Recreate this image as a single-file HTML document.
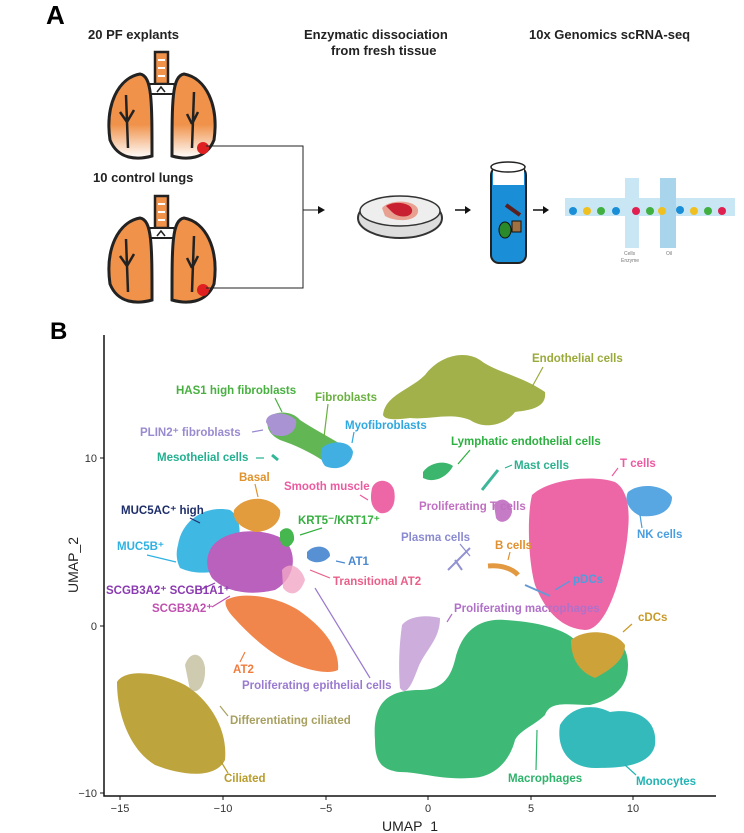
<!DOCTYPE html>
<html><head><meta charset="utf-8"><style>
body{margin:0;background:#fff;}
svg{display:block;font-family:"Liberation Sans",sans-serif;}
.t{font-weight:bold;font-size:13px;fill:#222}
.l{font-size:11.5px;font-weight:bold}
</style></head><body>
<svg width="744" height="833" viewBox="0 0 744 833">
<defs>
<linearGradient id="fade" x1="0" y1="0" x2="0" y2="1"><stop offset="0.6" stop-color="#f0924a"/><stop offset="1" stop-color="#fff"/></linearGradient>
</defs>
<text x="46" y="24" font-size="26" font-weight="bold">A</text>
<text class="t" x="88" y="39">20 PF explants</text>
<text class="t" x="304" y="39">Enzymatic dissociation</text>
<text class="t" x="331" y="55">from fresh tissue</text>
<text class="t" x="529" y="39">10x Genomics scRNA-seq</text>
<text class="t" x="93" y="182">10 control lungs</text>
<g>
<rect x="155" y="52" width="13" height="32" fill="#f0924a" stroke="#222" stroke-width="2.5"/>
<path d="M158 60h7M158 68h7M158 76h7" stroke="#fff" stroke-width="2"/>
<path d="M150 84 L174 84 L177 94 L147 94Z" fill="#fff" stroke="#222" stroke-width="2"/>
<path d="M157 92 L161 87 L165 92" fill="none" stroke="#222" stroke-width="1.5"/>
<path d="M110 140 C105 105,118 78,140 74 C152 76,152 100,152 156 C138 160,118 160,110 140Z" fill="url(#fade)" stroke="#222" stroke-width="3"/>
<path d="M214 140 C219 105,206 78,184 74 C172 76,172 100,172 156 C186 160,206 160,214 140Z" fill="url(#fade)" stroke="#222" stroke-width="3"/>
<path d="M126 95 L128 148 M120 112 L127 122 M134 110 L127 122 M194 92 L192 148 M187 114 L192 124 M198 112 L192 124" fill="none" stroke="#222" stroke-width="2.5"/>
</g>
<g transform="translate(0,144)">
<rect x="155" y="52" width="13" height="32" fill="#f0924a" stroke="#222" stroke-width="2.5"/>
<path d="M158 60h7M158 68h7M158 76h7" stroke="#fff" stroke-width="2"/>
<path d="M150 84 L174 84 L177 94 L147 94Z" fill="#fff" stroke="#222" stroke-width="2"/>
<path d="M157 92 L161 87 L165 92" fill="none" stroke="#222" stroke-width="1.5"/>
<path d="M110 140 C105 105,118 78,140 74 C152 76,152 100,152 156 C138 160,118 160,110 140Z" fill="#f0924a" stroke="#222" stroke-width="3"/>
<path d="M214 140 C219 105,206 78,184 74 C172 76,172 100,172 156 C186 160,206 160,214 140Z" fill="#f0924a" stroke="#222" stroke-width="3"/>
<path d="M126 95 L128 148 M120 112 L127 122 M134 110 L127 122 M194 92 L192 148 M187 114 L192 124 M198 112 L192 124" fill="none" stroke="#222" stroke-width="2.5"/>
</g>
<circle cx="203" cy="148" r="6" fill="#e02020"/>
<circle cx="203" cy="290" r="6" fill="#e02020"/>
<path d="M206 146 H303 V288 H206 M303 210 H318" fill="none" stroke="#222" stroke-width="1"/>
<path d="M318 206 L325 210 L318 214Z" fill="#111"/>
<ellipse cx="400" cy="218" rx="42" ry="20" fill="#ddd" stroke="#333" stroke-width="2"/>
<ellipse cx="400" cy="211" rx="40" ry="15" fill="#eee" stroke="#333" stroke-width="1.5"/>
<path d="M382 208 C390 198,420 200,418 212 C416 222,395 222,385 216Z" fill="#e8a090"/>
<path d="M386 206 C395 200,414 203,412 212 C410 218,398 218,392 212Z" fill="#c82030"/>
<path d="M455 210 H465 M533 210 H543" stroke="#111" stroke-width="1.5"/>
<path d="M465 206 L471 210 L465 214Z M543 206 L549 210 L543 214Z" fill="#111"/>
<rect x="491" y="167" width="35" height="96" rx="8" fill="#1a8fd8" stroke="#222" stroke-width="2"/>
<rect x="493" y="169" width="31" height="16" fill="#fff"/>
<ellipse cx="508" cy="167" rx="17" ry="5" fill="#fff" stroke="#222" stroke-width="1.5"/>
<ellipse cx="505" cy="230" rx="6" ry="8" fill="#2a8a2a" stroke="#111"/>
<rect x="512" y="221" width="9" height="11" fill="#a07040" stroke="#111"/>
<path d="M506 205 L520 215" stroke="#5a2020" stroke-width="4"/>
<rect x="565" y="198" width="170" height="18" fill="#c8e6f4"/>
<rect x="625" y="178" width="14" height="70" fill="#c8e6f4"/>
<rect x="660" y="178" width="16" height="70" fill="#a8d4ec"/>
<g>
<circle cx="573" cy="211" r="4" fill="#1a8fd8"/><circle cx="587" cy="211" r="4" fill="#f0c020"/><circle cx="601" cy="211" r="4" fill="#40b040"/><circle cx="616" cy="211" r="4" fill="#1a8fd8"/><circle cx="636" cy="211" r="4" fill="#e02050"/><circle cx="650" cy="211" r="4" fill="#40b040"/><circle cx="662" cy="211" r="4" fill="#f0c020"/><circle cx="680" cy="210" r="4" fill="#1a8fd8"/><circle cx="694" cy="211" r="4" fill="#f0c020"/><circle cx="708" cy="211" r="4" fill="#40b040"/><circle cx="722" cy="211" r="4" fill="#e02050"/>
</g>
<text x="624" y="255" font-size="5" fill="#777">Cells</text><text x="621" y="262" font-size="5" fill="#777">Enzyme</text><text x="666" y="255" font-size="5" fill="#777">Oil</text>

<text x="50" y="339" font-size="24" font-weight="bold">B</text>
<g opacity="0.92">
<path d="M383 415 C385 395,410 390,425 375 C440 355,465 350,480 360 C495 372,520 375,545 392 C547 408,530 410,515 412 C505 425,485 430,470 420 C450 412,430 420,410 418 C395 420,385 420,383 415Z" fill="#9aaa3a"/>
<path d="M268 420 C272 410,292 410,300 420 C315 430,335 440,350 450 C352 462,340 470,325 462 C310 452,295 445,280 440 C270 435,266 428,268 420Z" fill="#55b045"/>
<path d="M266 422 C266 412,285 410,296 420 C298 432,285 440,272 434Z" fill="#a28ad0"/>
<path d="M322 448 C330 440,350 440,353 452 C352 465,338 472,325 466 C320 460,320 453,322 448Z" fill="#30a8e0"/>
<path d="M272 455 L278 460" stroke="#22b090" stroke-width="3"/>
<path d="M372 488 C376 478,390 478,394 490 C397 505,390 515,380 513 C370 508,370 498,372 488Z" fill="#ec5aa0"/>
<path d="M423 472 C430 462,445 460,453 466 C448 476,435 484,423 478Z" fill="#2cb060"/>
<path d="M482 490 L498 470" stroke="#2cb090" stroke-width="3"/>
<path d="M532 495 C550 478,595 475,615 482 C628 490,630 510,628 530 C626 560,610 630,585 630 C560 628,545 610,535 585 C528 560,527 515,532 495Z" fill="#ec5aa0"/>
<path d="M628 492 C640 482,665 485,672 497 C672 510,660 518,640 516 C628 510,624 500,628 492Z" fill="#4a9ee0"/>
<path d="M494 505 C500 495,512 500,512 512 C510 522,500 525,496 518Z" fill="#c070c0"/>
<path d="M448 570 L470 548 M455 560 L462 570" stroke="#8a8ad0" stroke-width="2" fill="none"/>
<path d="M488 566 C500 565,512 568,518 575" stroke="#e09030" stroke-width="5" fill="none"/>
<path d="M525 585 L550 596" stroke="#5a90d0" stroke-width="2"/>
<path d="M375 740 C372 700,390 690,420 690 C440 690,450 680,455 660 C462 630,480 618,505 620 C540 622,565 630,575 640 C600 628,628 635,628 665 C628 690,610 700,590 705 C570 705,550 700,545 715 C535 725,520 730,515 740 C510 760,495 778,470 778 C440 780,420 772,400 772 C380 770,375 760,375 740Z" fill="#2db36a"/>
<path d="M571 640 C585 628,615 630,625 645 C625 660,610 670,595 678 C580 672,571 660,571 640Z" fill="#c99a28"/>
<path d="M560 725 C570 708,590 702,610 712 C635 708,658 718,655 745 C650 768,615 768,595 768 C570 768,556 750,560 725Z" fill="#22b4b4"/>
<path d="M402 625 C410 615,428 615,440 618 C440 640,425 650,418 668 C410 690,405 695,400 688 C398 660,400 640,402 625Z" fill="#b080c8" opacity="0.7"/>
<path d="M117 682 C125 668,160 672,185 685 C210 700,228 730,225 760 C215 780,180 775,155 765 C130 750,117 715,117 682Z" fill="#b89c2c"/>
<path d="M185 665 C190 650,203 652,205 668 C206 685,198 695,190 690Z" fill="#a8a070" opacity="0.6"/>
<path d="M226 600 C245 590,285 598,305 615 C325 630,340 650,338 670 C328 675,305 670,285 660 C265 650,245 630,236 620 C228 612,224 605,226 600Z" fill="#f07c3e"/>
<path d="M178 545 C182 520,205 505,230 510 C245 520,240 545,232 562 C220 575,195 575,180 568 C176 560,176 552,178 545Z" fill="#2fb2e2"/>
<path d="M210 550 C220 530,260 525,285 540 C298 555,295 578,275 590 C250 596,225 592,212 578 C206 568,206 558,210 550Z" fill="#b452b8"/>
<path d="M234 510 C245 495,270 495,280 510 C282 522,270 532,255 532 C240 528,232 520,234 510Z" fill="#e0922c"/>
<path d="M280 532 C285 525,295 528,294 540 C290 550,282 548,280 540Z" fill="#36b040"/>
<path d="M307 552 C315 543,330 546,330 556 C324 564,312 564,307 558Z" fill="#4a88d0"/>
<path d="M282 570 C290 560,302 568,305 580 C300 595,290 597,283 588Z" fill="#f0a0c0" opacity="0.8"/>
</g>
<path d="M104 335 V796 H716" fill="none" stroke="#111" stroke-width="1.5"/>
<g stroke="#111" stroke-width="1"><path d="M120 796v4M223 796v4M326 796v4M428 796v4M531 796v4M633 796v4M100 458h4M100 626h4M100 793h4"/></g>
<g font-size="11" fill="#333" text-anchor="middle"><text x="120" y="812">−15</text><text x="223" y="812">−10</text><text x="326" y="812">−5</text><text x="428" y="812">0</text><text x="531" y="812">5</text><text x="633" y="812">10</text></g>
<g font-size="11" fill="#333" text-anchor="end"><text x="97" y="462">10</text><text x="97" y="630">0</text><text x="97" y="797">−10</text></g>
<text x="410" y="831" font-size="14" fill="#222" text-anchor="middle">UMAP_1</text>
<text x="78" y="565" font-size="14" fill="#222" text-anchor="middle" transform="rotate(-90 78 565)">UMAP_2</text>
<g class="l">
<text x="532" y="362" fill="#9aaa3a">Endothelial cells</text>
<text x="176" y="394" fill="#48b040">HAS1 high fibroblasts</text>
<text x="315" y="401" fill="#6ab040">Fibroblasts</text>
<text x="140" y="436" fill="#9a8ad0">PLIN2⁺ fibroblasts</text>
<text x="345" y="429" fill="#30a8e0">Myofibroblasts</text>
<text x="451" y="445" fill="#2cb040">Lymphatic endothelial cells</text>
<text x="157" y="461" fill="#22b090">Mesothelial cells</text>
<text x="514" y="469" fill="#2cb090">Mast cells</text>
<text x="620" y="467" fill="#ec5aa0">T cells</text>
<text x="239" y="481" fill="#e0922c">Basal</text>
<text x="284" y="490" fill="#ec5aa0">Smooth muscle</text>
<text x="121" y="514" fill="#1e2e6a">MUC5AC⁺ high</text>
<text x="419" y="510" fill="#c070c0">Proliferating T cells</text>
<text x="298" y="524" fill="#36b040">KRT5⁻/KRT17⁺</text>
<text x="401" y="541" fill="#8a8ad0">Plasma cells</text>
<text x="637" y="538" fill="#4a9ee0">NK cells</text>
<text x="117" y="550" fill="#2fb2e2">MUC5B⁺</text>
<text x="495" y="549" fill="#e09030">B cells</text>
<text x="348" y="565" fill="#4a88d0">AT1</text>
<text x="333" y="585" fill="#e8608a">Transitional AT2</text>
<text x="573" y="583" fill="#4a9ee0">pDCs</text>
<text x="106" y="594" fill="#8a3ab0">SCGB3A2⁺ SCGB1A1⁺</text>
<text x="152" y="612" fill="#c050b0">SCGB3A2⁺</text>
<text x="454" y="612" fill="#b070c8">Proliferating macrophages</text>
<text x="638" y="621" fill="#c99a28">cDCs</text>
<text x="233" y="673" fill="#f07c3e">AT2</text>
<text x="242" y="689" fill="#9a7ad0">Proliferating epithelial cells</text>
<text x="230" y="724" fill="#a8a060">Differentiating ciliated</text>
<text x="224" y="782" fill="#b89c2c">Ciliated</text>
<text x="508" y="782" fill="#2db36a">Macrophages</text>
<text x="636" y="785" fill="#22b4b4">Monocytes</text>
</g>
<g stroke-width="1.2" fill="none">
<path d="M543 367 L532 387" stroke="#9aaa3a"/>
<path d="M275 398 L282 412" stroke="#48b040"/>
<path d="M328 404 L324 437" stroke="#6ab040"/>
<path d="M252 432 L263 430" stroke="#9a8ad0"/>
<path d="M354 432 L352 443" stroke="#30a8e0"/>
<path d="M470 450 L458 464" stroke="#2cb040"/>
<path d="M256 458 L264 458" stroke="#22b090"/>
<path d="M512 465 L505 468" stroke="#2cb090"/>
<path d="M618 468 L612 476" stroke="#ec5aa0"/>
<path d="M255 484 L258 497" stroke="#e0922c"/>
<path d="M360 495 L368 500" stroke="#ec5aa0"/>
<path d="M190 518 L200 523" stroke="#1e2e6a"/>
<path d="M322 528 L300 535" stroke="#36b040"/>
<path d="M460 544 L470 556" stroke="#8a8ad0"/>
<path d="M642 528 L640 515" stroke="#4a9ee0"/>
<path d="M147 555 L176 562" stroke="#2fb2e2"/>
<path d="M510 552 L508 560" stroke="#e09030"/>
<path d="M336 561 L345 563" stroke="#4a88d0"/>
<path d="M330 578 L310 570" stroke="#e8608a"/>
<path d="M570 581 L555 590" stroke="#4a9ee0"/>
<path d="M200 590 L215 583" stroke="#8a3ab0"/>
<path d="M212 607 L230 596" stroke="#c050b0"/>
<path d="M452 614 L447 622" stroke="#b070c8"/>
<path d="M632 624 L623 632" stroke="#c99a28"/>
<path d="M240 662 L245 652" stroke="#f07c3e"/>
<path d="M370 678 L315 588" stroke="#9a7ad0"/>
<path d="M228 716 L220 706" stroke="#a8a060"/>
<path d="M228 773 L220 760" stroke="#b89c2c"/>
<path d="M536 770 L537 730" stroke="#2db36a"/>
<path d="M636 775 L625 765" stroke="#22b4b4"/>
</g>
</svg>
</body></html>
